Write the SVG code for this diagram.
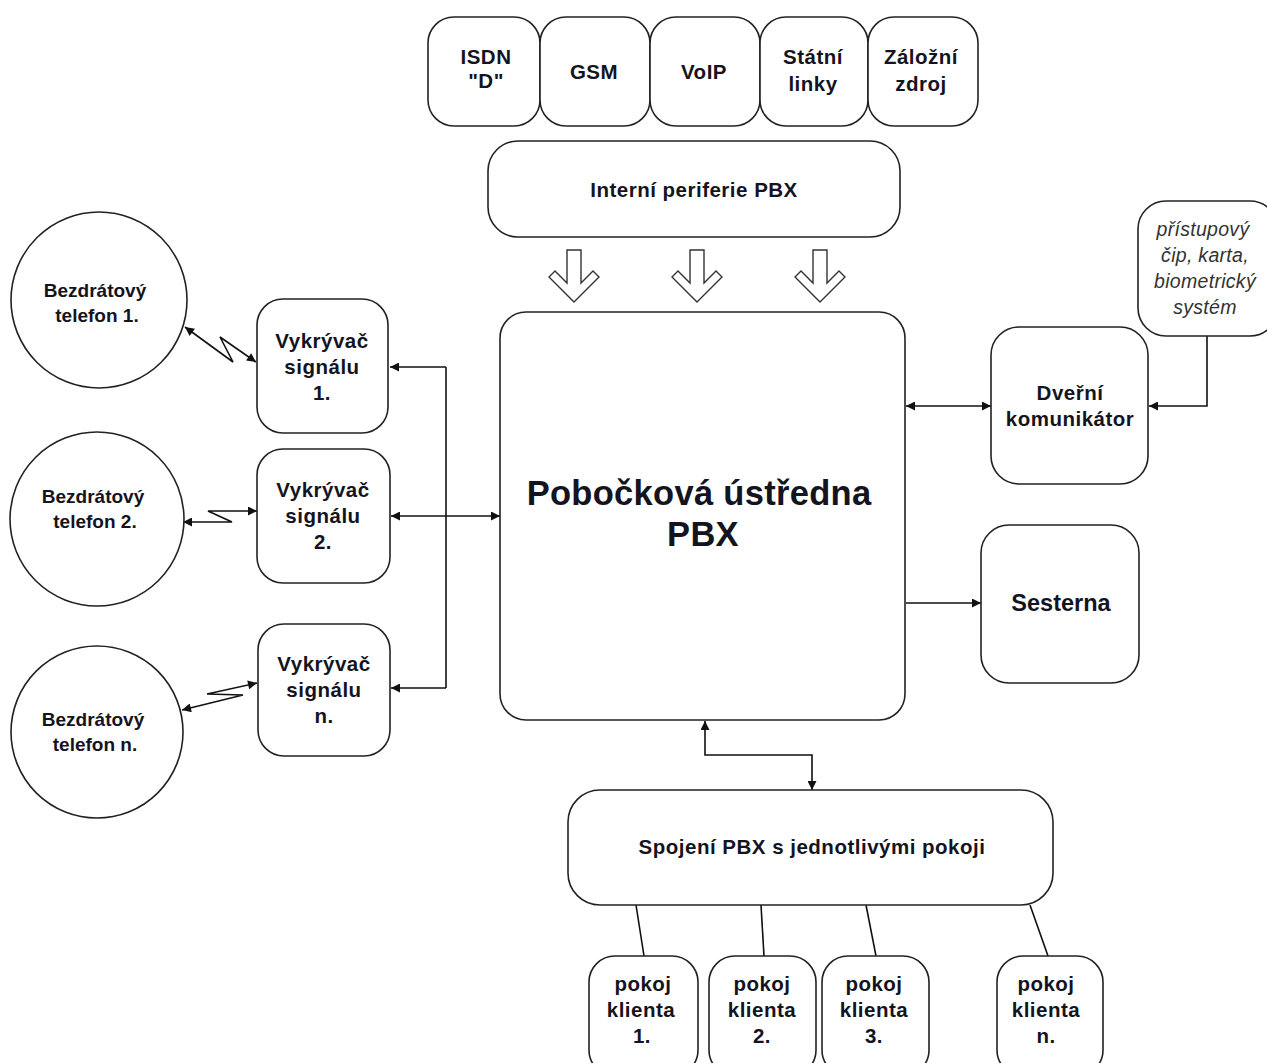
<svg xmlns="http://www.w3.org/2000/svg" width="1267" height="1063" viewBox="0 0 1267 1063">
<defs>
<marker id="ah" viewBox="0 0 10 10" refX="10" refY="5" markerWidth="10" markerHeight="9" markerUnits="userSpaceOnUse" orient="auto-start-reverse">
<path d="M0,0 L10,5 L0,10 z" fill="#111"/>
</marker>
<style>
.box{fill:#fff;stroke:#222;stroke-width:1.6}
.t{font-family:"Liberation Sans",Arial,sans-serif;font-weight:bold;font-size:20.5px;letter-spacing:0.5px;fill:#141420;text-anchor:middle}
.sm{font-size:19px;letter-spacing:0}
.big{font-size:34.5px;letter-spacing:0.3px}
.it{font-weight:normal;font-style:italic;font-size:19.5px;fill:#333;letter-spacing:0.3px}
.c{fill:none;stroke:#111;stroke-width:1.6}
.hol{fill:#fff;stroke:#333;stroke-width:1.4}
</style>
</defs>
<rect width="1267" height="1063" fill="#fff"/>

<g id="connectors">
<polygon class="hol" points="567,250 581,250 581,283 593,271 599,277 574,302 549,277 555,271 567,283"/>
<polygon class="hol" points="690,250 704,250 704,283 716,271 722,277 697,302 672,277 678,271 690,283"/>
<polygon class="hol" points="813,250 827,250 827,283 839,271 845,277 820,302 795,277 801,271 813,283"/>
<polyline class="c" points="446,367 446,688"/>
<line class="c" x1="446" y1="367" x2="390" y2="367" marker-end="url(#ah)"/>
<line class="c" x1="446" y1="688" x2="391" y2="688" marker-end="url(#ah)"/>
<line class="c" x1="391" y1="516" x2="500" y2="516" marker-start="url(#ah)" marker-end="url(#ah)"/>
<polyline class="c" points="185,327 233,362 220,337 256,362" marker-start="url(#ah)" marker-end="url(#ah)"/>
<polyline class="c" points="183,522 232,522 208,511 257,511" marker-start="url(#ah)" marker-end="url(#ah)"/>
<polyline class="c" points="182,710 243,695 207,694 257,683" marker-start="url(#ah)" marker-end="url(#ah)"/>
<line class="c" x1="906" y1="406" x2="991" y2="406" marker-start="url(#ah)" marker-end="url(#ah)"/>
<polyline class="c" points="1207,336 1207,406 1149,406" marker-end="url(#ah)"/>
<line class="c" x1="906" y1="603" x2="981" y2="603" marker-end="url(#ah)"/>
<polyline class="c" points="705,721 705,755 812,755 812,790" marker-start="url(#ah)" marker-end="url(#ah)"/>
<line class="c" x1="636" y1="905" x2="644" y2="956"/>
<line class="c" x1="761" y1="905" x2="764" y2="956"/>
<line class="c" x1="866" y1="905" x2="876" y2="956"/>
<line class="c" x1="1030" y1="905" x2="1048" y2="956"/>
</g>

<g id="isdn"><rect class="box" x="428" y="17" width="112" height="109" rx="26"/><text class="t" x="486" y="64">ISDN</text><text class="t" x="486" y="88">"D"</text></g>
<g id="gsm"><rect class="box" x="540" y="17" width="110" height="109" rx="26"/><text class="t" x="594" y="79">GSM</text></g>
<g id="voip"><rect class="box" x="650" y="17" width="110" height="109" rx="26"/><text class="t" x="704" y="79">VoIP</text></g>
<g id="statni"><rect class="box" x="760" y="17" width="108" height="109" rx="26"/><text class="t" x="813" y="64">Státní</text><text class="t" x="813" y="91">linky</text></g>
<g id="zalozni"><rect class="box" x="868" y="17" width="110" height="109" rx="26"/><text class="t" x="921" y="64">Záložní</text><text class="t" x="921" y="91">zdroj</text></g>

<g id="interni"><rect class="box" x="488" y="141" width="412" height="96" rx="30"/><text class="t" x="694" y="197">Interní periferie PBX</text></g>

<g id="pbx"><rect class="box" x="500" y="312" width="405" height="408" rx="26"/><text class="t big" x="699" y="505">Pobočková ústředna</text><text class="t big" x="703" y="546">PBX</text></g>

<g id="tel1"><circle class="box" cx="99" cy="300" r="88"/><text class="t sm" x="95" y="297">Bezdrátový</text><text class="t sm" x="97" y="322">telefon 1.</text></g>
<g id="tel2"><circle class="box" cx="97" cy="519" r="87"/><text class="t sm" x="93" y="503">Bezdrátový</text><text class="t sm" x="95" y="528">telefon 2.</text></g>
<g id="teln"><circle class="box" cx="97" cy="732" r="86"/><text class="t sm" x="93" y="726">Bezdrátový</text><text class="t sm" x="95" y="751">telefon n.</text></g>

<g id="vyk1"><rect class="box" x="257" y="299" width="131" height="134" rx="26"/><text class="t" x="322" y="348">Vykrývač</text><text class="t" x="322" y="374">signálu</text><text class="t" x="322" y="400">1.</text></g>
<g id="vyk2"><rect class="box" x="257" y="449" width="133" height="134" rx="26"/><text class="t" x="323" y="497">Vykrývač</text><text class="t" x="323" y="523">signálu</text><text class="t" x="323" y="549">2.</text></g>
<g id="vykn"><rect class="box" x="258" y="624" width="132" height="132" rx="26"/><text class="t" x="324" y="671">Vykrývač</text><text class="t" x="324" y="697">signálu</text><text class="t" x="324" y="723">n.</text></g>

<g id="pristup"><rect class="box" x="1138" y="201" width="140" height="135" rx="28"/><text class="t it" x="1203" y="236">přístupový</text><text class="t it" x="1205" y="262">čip, karta,</text><text class="t it" x="1205" y="288">biometrický</text><text class="t it" x="1205" y="314">systém</text></g>

<g id="dverni"><rect class="box" x="991" y="327" width="157" height="157" rx="28"/><text class="t" x="1070" y="400">Dveřní</text><text class="t" x="1070" y="426">komunikátor</text></g>

<g id="sesterna"><rect class="box" x="981" y="525" width="158" height="158" rx="28"/><text class="t" x="1061" y="611" style="font-size:23.5px;letter-spacing:0">Sesterna</text></g>

<g id="spojeni"><rect class="box" x="568" y="790" width="485" height="115" rx="32"/><text class="t" x="812" y="854">Spojení PBX s jednotlivými pokoji</text></g>

<g id="pokoj1"><rect class="box" x="589" y="956" width="109" height="120" rx="26"/><text class="t" x="643" y="991">pokoj</text><text class="t" x="641" y="1017">klienta</text><text class="t" x="642" y="1043">1.</text></g>
<g id="pokoj2"><rect class="box" x="709" y="956" width="107" height="120" rx="26"/><text class="t" x="762" y="991">pokoj</text><text class="t" x="762" y="1017">klienta</text><text class="t" x="762" y="1043">2.</text></g>
<g id="pokoj3"><rect class="box" x="822" y="956" width="107" height="120" rx="26"/><text class="t" x="874" y="991">pokoj</text><text class="t" x="874" y="1017">klienta</text><text class="t" x="874" y="1043">3.</text></g>
<g id="pokojn"><rect class="box" x="997" y="956" width="106" height="120" rx="26"/><text class="t" x="1046" y="991">pokoj</text><text class="t" x="1046" y="1017">klienta</text><text class="t" x="1046" y="1043">n.</text></g>
</svg>
